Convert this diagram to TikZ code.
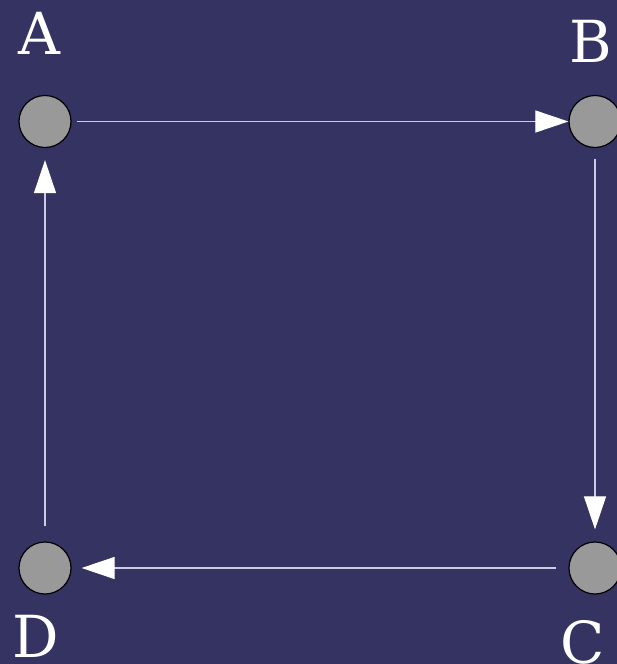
\documentclass[tikz,border=0pt]{standalone}
\usepackage{fontspec}
\setmainfont{DejaVu Serif}
\usetikzlibrary{arrows.meta}
\definecolor{bgcol}{RGB}{52,51,98}
\definecolor{linecol}{RGB}{205,205,225}
\definecolor{nodefill}{RGB}{153,153,153}
\begin{document}
\begin{tikzpicture}[x=1pt,y=-1pt,
  dot/.style={circle,draw=black,line width=1.2pt,fill=nodefill,minimum size=52pt,inner sep=0pt},
  lbl/.style={text=white,font=\fontsize{58}{60}\selectfont,inner sep=0pt},
  conn/.style={draw=linecol,line width=1.1pt,-{Triangle[length=33pt,width=22pt,fill=white,color=white]}}]
\fill[bgcol] (0,0) rectangle (617,664);
\useasboundingbox (0,0) rectangle (617,664);
\node[dot] (A) at (45,121.5) {};
\node[dot] (B) at (595,121.5) {};
\node[dot] (C) at (595,568) {};
\node[dot] (D) at (45,568) {};
\node[lbl] (la) at (39.5,33) {A};
\node[lbl] (lb) at (591,41) {B};
\node[lbl] (lc) at (583,642) {C};
\node[lbl] (ld) at (36,636) {D};
\draw[conn,shorten <=5pt] (A) -- (B);
\draw[conn,shorten <=11pt,shorten >=12pt] (B) -- (C);
\draw[conn,shorten <=12pt,shorten >=10pt] (C) -- (D);
\draw[conn,shorten <=15pt,shorten >=12pt] (D) -- (A);
\end{tikzpicture}
\end{document}
